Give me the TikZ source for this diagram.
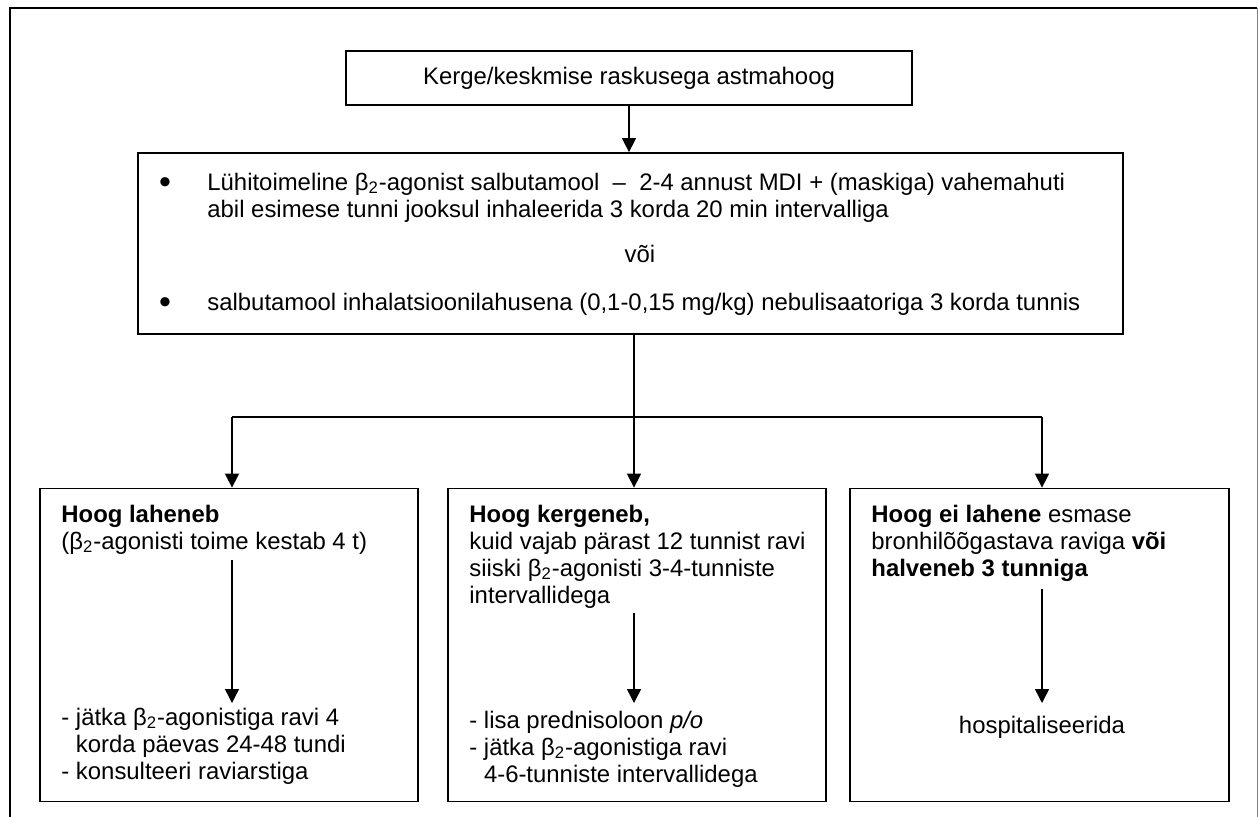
\documentclass[tikz,border=0pt]{standalone}
\usepackage{fontspec}
\setmainfont{Liberation Sans}
\usetikzlibrary{arrows.meta}
\newcommand{\bsub}{β\textsubscript{2}}
\tikzset{
  txt/.style={inner sep=0pt, font=\fontsize{11.95pt}{13.5pt}\selectfont},
  bul/.style={inner sep=0pt, font=\fontsize{17pt}{17pt}\selectfont},
  boxed/.style={draw, line width=0.9pt, inner sep=0pt, fill=white},
  conn/.style={line width=0.7pt},
  arr/.style={line width=0.7pt, -{Triangle[length=7pt,width=7pt]}},
}
\begin{document}
\begin{tikzpicture}[x=0.5pt,y=-0.5pt]
\useasboundingbox (0,0) rectangle (1258,816);
\clip (0,0) rectangle (1258,816);
% outer frame
\draw[line width=1pt] (10,840) -- (10,8) -- (1257,8);
\draw[line width=0.5pt, gray] (1257,8) -- (1257,840);

% top box
\node[boxed, minimum width=283pt, minimum height=27pt, txt] (top) at (629,78) {Kerge/keskmise raskusega astmahoog};

% main box
\node[boxed, minimum width=492.5pt, minimum height=90.5pt] (main) at (630.5,243.5) {};
\node[bul, anchor=base] (b1) at (165,193) {\textbullet};
\node[txt, anchor=base west] (l1) at (207,190) {\parbox[t]{450pt}{Lühitoimeline \bsub-agonist salbutamool~ –~ 2-4 annust MDI + (maskiga) vahemahuti\\abil esimese tunni jooksul inhaleerida 3 korda 20 min intervalliga}};
\node[txt, anchor=base] (voi) at (640,262) {või};
\node[bul, anchor=base] (b2) at (165,313) {\textbullet};
\node[txt, anchor=base west] (l3) at (207,310) {salbutamool inhalatsioonilahusena (0,1-0,15 mg/kg) nebulisaatoriga 3 korda tunnis};

% lower boxes
\node[boxed, minimum width=189pt, minimum height=156.5pt] (lbox) at (229,645) {};
\node[boxed, minimum width=189pt, minimum height=156.5pt] (mbox) at (637,645) {};
\node[boxed, minimum width=189.5pt, minimum height=156.5pt] (rbox) at (1039.5,645) {};

% left box texts
\node[txt, anchor=base west] (lhead) at (61,522) {\parbox[t]{180pt}{\textbf{Hoog laheneb}\\(\bsub-agonisti toime kestab 4 t)}};
\node[txt, anchor=base west] (lact) at (61,725) {\parbox[t]{180pt}{- jätka \bsub-agonistiga ravi 4\\\phantom{- }korda päevas 24-48 tundi\\- konsulteeri raviarstiga}};

% middle box texts
\node[txt, anchor=base west] (mhead) at (469,522) {\parbox[t]{180pt}{\textbf{Hoog kergeneb,}\\kuid vajab pärast 12 tunnist ravi\\siiski \bsub-agonisti 3-4-tunniste\\intervallidega}};
\node[txt, anchor=base west] (mact) at (469,728) {\parbox[t]{180pt}{- lisa prednisoloon \textit{p/o}\\- jätka \bsub-agonistiga ravi\\\phantom{- }4-6-tunniste intervallidega}};

% right box texts
\node[txt, anchor=base west] (rhead) at (871,522) {\parbox[t]{180pt}{\textbf{Hoog ei lahene} esmase\\bronhilõõgastava raviga \textbf{või}\\\textbf{halveneb 3 tunniga}}};
\node[txt, anchor=base] (ract) at (1042,733) {hospitaliseerida};

% connectors
\draw[arr] (top.south) -- (top.south |- main.north);
\coordinate (hl) at (232,417);
\coordinate (hm) at (634,417);
\coordinate (hr) at (1042,417);
\draw[conn] (main.south -| hm) -- (hm);
\draw[conn] (hl) -- (hr);
\draw[arr] (hl) -- (hl |- lbox.north);
\draw[arr] (hm) -- (hm |- mbox.north);
\draw[arr] (hr) -- (hr |- rbox.north);

% inner arrows
\coordinate (la) at (232,560);
\coordinate (ma) at (634,613);
\coordinate (ra) at (1042,589);
\draw[arr] (la) -- (la |- 0,703);
\draw[arr] (ma) -- (ma |- 0,703);
\draw[arr] (ra) -- (ra |- 0,703);
\end{tikzpicture}
\end{document}
